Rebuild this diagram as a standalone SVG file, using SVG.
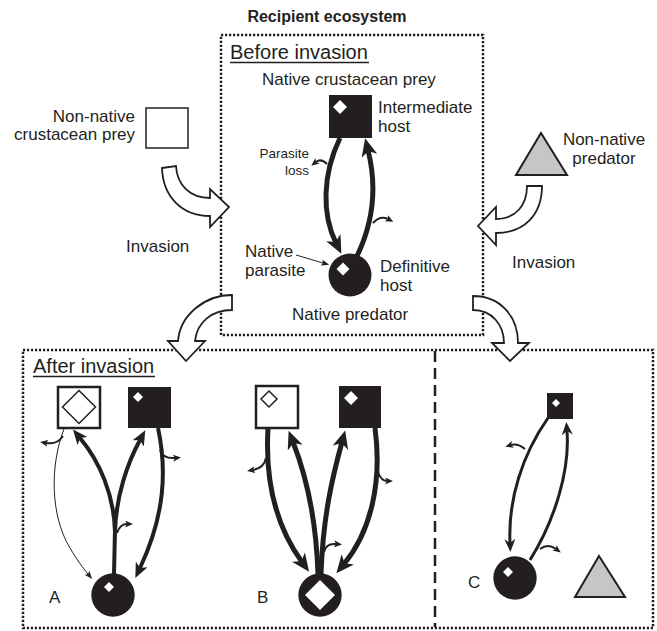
<svg xmlns="http://www.w3.org/2000/svg" width="657" height="631" viewBox="0 0 657 631">
<style>
text{font-family:"Liberation Sans",Arial,sans-serif;fill:#231f20;font-size:17px}
.title{font-weight:bold;font-size:16px}
.head{font-size:20px}
.small{font-size:13.5px}
.box{fill:none;stroke:#231f20;stroke-width:2.5;stroke-dasharray:2.2 1.8}
.divider{fill:none;stroke:#231f20;stroke-width:2.5;stroke-dasharray:11 6}
.hollow{fill:#fff;stroke:#231f20;stroke-width:1.8;stroke-linejoin:miter}
.blk{fill:#231f20}
.wsq{fill:#fff;stroke:#231f20;stroke-width:2.5}
.wd{fill:#fff}
.hd{fill:#fff;stroke:#231f20;stroke-width:1.5}
.tri{fill:#c6c6c6;stroke:#231f20;stroke-width:2}
.c{fill:none;stroke:#231f20;stroke-linecap:butt}
.w5{stroke-width:5}
.w4{stroke-width:4}
.w3{stroke-width:3}
.w2{stroke-width:2}
.w1{stroke-width:1}
</style>
<defs>
<marker id="ah" markerUnits="userSpaceOnUse" viewBox="0 0 18 16" markerWidth="18" markerHeight="16" refX="6" refY="8" orient="auto"><path d="M0,0 L18,8 L0,16 L5,8 Z" fill="#231f20"/></marker>
<marker id="al" markerUnits="userSpaceOnUse" viewBox="0 0 15 13" markerWidth="15" markerHeight="13" refX="4" refY="6.5" orient="auto"><path d="M0,0 L15,6.5 L0,13 L4,6.5 Z" fill="#231f20"/></marker>
<marker id="am" markerUnits="userSpaceOnUse" viewBox="0 0 13 11" markerWidth="13" markerHeight="11" refX="4" refY="5.5" orient="auto"><path d="M0,0 L13,5.5 L0,11 L4,5.5 Z" fill="#231f20"/></marker>
<marker id="as" markerUnits="userSpaceOnUse" viewBox="0 0 8 7" markerWidth="8" markerHeight="7" refX="2" refY="3.5" orient="auto"><path d="M0,0 L8,3.5 L0,7 L2,3.5 Z" fill="#231f20"/></marker>
<marker id="at" markerUnits="userSpaceOnUse" viewBox="0 0 8 6" markerWidth="8" markerHeight="6" refX="1.5" refY="3" orient="auto"><path d="M0,0 L8,3 L0,6 L1.5,3 Z" fill="#231f20"/></marker>
</defs>

<text class="title" x="327" y="22" text-anchor="middle">Recipient ecosystem</text>

<g id="frames">
<rect class="box" x="221" y="35" width="262" height="300"/>
<rect class="box" x="23" y="350" width="630" height="278"/>
<line class="divider" x1="435" y1="351" x2="435" y2="627"/>
</g>

<g id="labels">
<text class="head" x="230" y="59">Before invasion</text>
<line x1="230" y1="62.5" x2="369" y2="62.5" stroke="#231f20" stroke-width="1.5"/>
<text class="head" x="33" y="373">After invasion</text>
<line x1="33" y1="376.5" x2="155" y2="376.5" stroke="#231f20" stroke-width="1.5"/>
<text x="126" y="252">Invasion</text>
<text x="512" y="268">Invasion</text>
<text x="49" y="603">A</text>
<text x="257" y="603">B</text>
<text x="468" y="588">C</text>
</g>

<g id="nonnative-prey">
<rect x="146" y="108" width="42" height="40" fill="#fff" stroke="#231f20" stroke-width="1.5"/>
<text x="135" y="122" text-anchor="end">Non-native</text>
<text x="135" y="140" text-anchor="end">crustacean prey</text>
</g>

<g id="nonnative-predator">
<polygon class="tri" points="541,133 567,175 516,175"/>
<text x="604" y="145" text-anchor="middle">Non-native</text>
<text x="604" y="164" text-anchor="middle">predator</text>
</g>

<g id="native-prey">
<text x="262" y="85">Native crustacean prey</text>
<rect class="blk" x="329" y="95" width="43" height="43"/>
<polygon class="wd" points="340,100 347,107 340,114 333,107"/>
<text x="378" y="113">Intermediate</text>
<text x="378" y="132">host</text>
</g>

<g id="native-predator">
<circle class="blk" cx="350" cy="275" r="21.5"/>
<polygon class="wd" points="343,262.5 349.5,269 343,275.5 336.5,269"/>
<text x="380" y="272">Definitive</text>
<text x="380" y="291">host</text>
<text x="245" y="257">Native</text>
<text x="245" y="276">parasite</text>
<text x="292" y="320">Native predator</text>
<text class="small" x="309" y="158" text-anchor="end">Parasite</text>
<text class="small" x="309" y="175" text-anchor="end">loss</text>
</g>

<g id="A-prey-nonnative">
<rect class="wsq" x="58" y="387" width="42" height="41"/>
<polygon class="hd" points="79,390.5 95.5,407 79,423.5 62.5,407"/>
</g>
<g id="A-prey-native">
<rect class="blk" x="128" y="387" width="43" height="41"/>
<polygon class="wd" points="138,392 143,397 138,402 133,397"/>
</g>
<g id="A-predator">
<circle class="blk" cx="113" cy="595" r="21.7"/>
<polygon class="wd" points="109,582 114,587 109,592 104,587"/>
</g>

<g id="B-prey-nonnative">
<rect class="wsq" x="256" y="386" width="42" height="42"/>
<polygon class="hd" points="269,391 277,399 269,407 261,399"/>
</g>
<g id="B-prey-native">
<rect class="blk" x="339" y="386" width="42" height="42"/>
<polygon class="wd" points="351,391 358,398 351,405 344,398"/>
</g>
<g id="B-predator">
<circle class="blk" cx="320" cy="595" r="21.7"/>
<polygon class="wd" points="320,580 335,595 320,610 305,595"/>
</g>

<g id="C-prey-native">
<rect class="blk" x="547" y="393" width="26" height="26"/>
<polygon class="wd" points="556,399 560,403 556,407 552,403"/>
</g>
<g id="C-predator">
<circle class="blk" cx="515" cy="578" r="21.7"/>
<polygon class="wd" points="508,567 513,572 508,577 503,572"/>
</g>
<g id="C-nonnative-predator">
<polygon class="tri" points="599,556 625,597 575,597"/>
</g>

<g id="connectors">
<!-- top box -->
<path class="c w5" d="M340,138 C322,175 322,215 336,243" marker-end="url(#ah)"/>
<path class="c w5" d="M357,256 C372,225 378,190 368,150" marker-end="url(#ah)"/>
<path class="c w2" d="M327,164 Q321,158 316,162" marker-end="url(#as)"/>
<path class="c w2" d="M373,223 Q380,215 388,219" marker-end="url(#as)"/>
<path class="c w1" d="M296,255 L323,263" marker-end="url(#at)"/>

<!-- panel A -->
<path class="c w1" d="M64,429 C50,465 50,515 70,548 C77,560 83,568 88,574" marker-end="url(#at)"/>
<path class="c w2" d="M63,436 Q57,445 46,443" marker-end="url(#as)"/>
<path class="c w4" d="M114,574 L115,530"/>
<path class="c w4" d="M115,532 C114,495 100,462 80,438" marker-end="url(#al)"/>
<path class="c w4" d="M115,532 C116,495 128,462 140,440" marker-end="url(#al)"/>
<path class="c w2" d="M117,533 Q120,524 127,524" marker-end="url(#as)"/>
<path class="c w4" d="M158,428 C167,470 165,515 140,568" marker-end="url(#al)"/>
<path class="c w2" d="M160,450 Q163,459 175,458" marker-end="url(#as)"/>

<!-- panel B -->
<path class="c w5" d="M268,428 C265,480 275,525 302,562" marker-end="url(#ah)"/>
<path class="c w2" d="M266,458 Q264,468 253,470" marker-end="url(#as)"/>
<path class="c w5" d="M318,574 C316,515 306,475 293,442" marker-end="url(#ah)"/>
<path class="c w5" d="M321,574 C323,515 333,475 342,442" marker-end="url(#ah)"/>
<path class="c w2" d="M324,552 Q326,543 336,544" marker-end="url(#as)"/>
<path class="c w5" d="M375,428 C382,480 372,530 344,564" marker-end="url(#ah)"/>
<path class="c w2" d="M378,472 Q381,481 387,481" marker-end="url(#as)"/>

<!-- panel C -->
<path class="c w3" d="M548,418 C522,455 508,500 510,543" marker-end="url(#am)"/>
<path class="c w2" d="M525,449 Q518,443 511,445" marker-end="url(#as)"/>
<path class="c w3" d="M530,560 C555,520 570,470 567,431" marker-end="url(#am)"/>
<path class="c w2" d="M540,549 Q548,543 556,549" marker-end="url(#as)"/>

<!-- invasion arrows -->
<path class="hollow" d="M162,168 L176,166 C177,185 190,198 210,198 L210,189 L229,207 L210,227 L210,216 C182,216 163,197 162,168 Z"/>
<path class="hollow" d="M527,186 L542,186 C542,215 524,233 496,233 L496,245 L478,226 L496,207 L496,219 C515,219 527,206 527,186 Z"/>
<path class="hollow" d="M232,295 C205,295 180,315 178,341 L168,341 L186,361 L205,341 L195,341 C197,322 212,310 232,310 Z"/>
<path class="hollow" d="M473,296 C500,296 518,316 518,343 L529,343 L510,361 L492,343 L504,343 C504,325 492,310 473,310 Z"/>
</g>
</svg>
